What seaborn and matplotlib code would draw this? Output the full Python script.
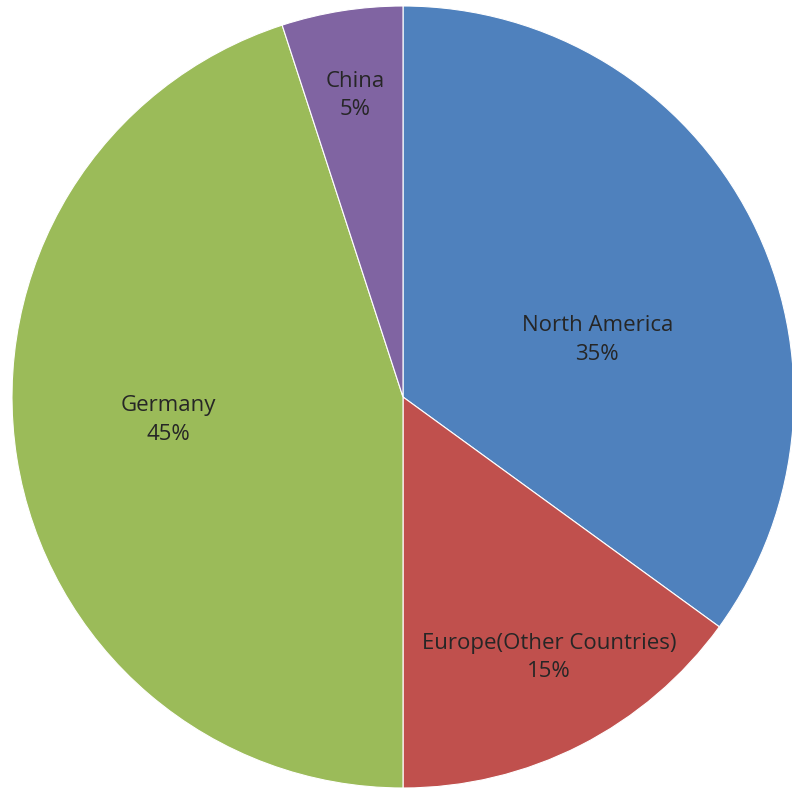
import matplotlib
matplotlib.use('Agg')
import matplotlib.pyplot as plt
import seaborn as sns

regions = ['North America', 'Europe(Other Countries)', 'Germany', 'China']
shares = [35, 15, 45, 5]
colors = ['#4F81BD', '#C0504D', '#9BBB59', '#8064A2']
# label spots inside each wedge, in units of the radius
label_pos = [(0.497, 0.146), (0.374, -0.667), (-0.6, -0.059), (-0.123, 0.772)]

sns.set_theme(style='white')
plt.rcParams['font.family'] = ['Open Sans', 'DejaVu Sans']

fig = plt.figure(figsize=(7.92, 7.93), dpi=100)
ax = fig.add_axes([12 / 792, 1 - 788 / 793, 782 / 792, 782 / 793])
ax.pie(
	shares
	, colors=colors
	, startangle=90
	, counterclock=False
	, radius=1
	, wedgeprops={'edgecolor': 'white', 'linewidth': 0.8}
)
for name, val, (x, y) in zip(regions, shares, label_pos):
	ax.text(x, y, f'{name}\n{val}%', ha='center', va='center'
		, fontsize=16, color='#262626', linespacing=1.45)
ax.set_xlim(-1, 1)
ax.set_ylim(-1, 1)
ax.set_aspect('equal')
ax.axis('off')

fig.savefig('out.png', dpi=100)
